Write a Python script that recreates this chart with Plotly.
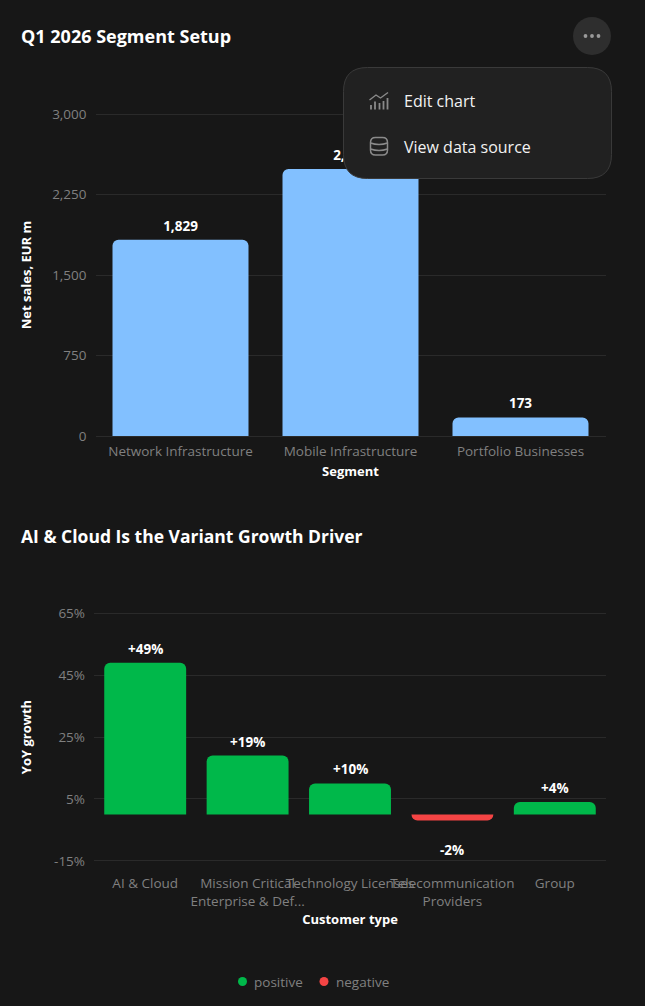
import plotly.graph_objects as go

W, H = 645, 1006
FONT = "Open Sans"
BG = "#171717"
GRID = "#2a2a2a"
TICK = "#808080"
WHITE = "#ffffff"

# Net sales by segment
segments = ["Network Infrastructure", "Mobile Infrastructure", "Portfolio Businesses"]
net_sales = [1829, 2487, 173]
sales_ticks = [0, 750, 1500, 2250, 3000]

# Growth by customer type
customers = ["AI & Cloud", "Mission Critical<br>Enterprise & Def...", "Technology Licenses",
             "Telecommunication<br>Providers", "Group"]
growth = [49, 19, 10, -2, 4]
growth_ticks = [-15, 5, 25, 45, 65]
growth_labels = ["-15%", "5%", "25%", "45%", "65%"]

POS, NEG = "#00b84a", "#f44444"


def px(x):
    return x / W


def py(y):
    return 1 - y / H


def pt(x, y):
    return f"{px(x):.5f},{py(y):.5f}"


def rounded(x0, y0, x1, y1, r):
    return (f"M{pt(x0 + r, y0)} L{pt(x1 - r, y0)} Q{pt(x1, y0)} {pt(x1, y0 + r)} "
            f"L{pt(x1, y1 - r)} Q{pt(x1, y1)} {pt(x1 - r, y1)} "
            f"L{pt(x0 + r, y1)} Q{pt(x0, y1)} {pt(x0, y1 - r)} "
            f"L{pt(x0, y0 + r)} Q{pt(x0, y0)} {pt(x0 + r, y0)} Z")


def shape_path(d, fill="rgba(0,0,0,0)", line=None, width=1.5):
    return dict(type="path", xref="paper", yref="paper", path=d, fillcolor=fill, layer="above",
                line=dict(color=line or "rgba(0,0,0,0)", width=width if line else 0))


def dot(cx, cy, r, fill):
    return dict(type="circle", xref="paper", yref="paper", layer="above", fillcolor=fill,
                x0=px(cx - r), x1=px(cx + r), y0=py(cy + r), y1=py(cy - r), line=dict(width=0))


def text(x, y, s, size, color=WHITE, bold=False, anchor="left"):
    return dict(xref="paper", yref="paper", x=px(x), y=py(y), text=f"<b>{s}</b>" if bold else s,
                showarrow=False, xanchor=anchor, yanchor="middle",
                font=dict(family=FONT, size=size, color=color))


fig = go.Figure()

fig.add_bar(x=segments, y=net_sales, xaxis="x", yaxis="y", width=0.8, marker_color="#82c0ff",
            marker_line_width=0, showlegend=False, hoverinfo="skip")

# Value labels sit in the trace layer so the popup menu covers them
fig.add_scatter(x=segments, y=net_sales, xaxis="x", yaxis="y", mode="markers+text",
                marker=dict(size=7.5, opacity=0), text=[f"{v:,}" for v in net_sales],
                textposition="top center", cliponaxis=False,
                textfont=dict(family=FONT, size=13.5, color=WHITE, weight=700),
                showlegend=False, hoverinfo="skip")

fig.add_bar(x=customers, y=growth, xaxis="x2", yaxis="y2", width=0.8,
            marker_color=[POS if v >= 0 else NEG for v in growth],
            marker_line_width=0, showlegend=False, hoverinfo="skip")

axis_common = dict(showline=False, zeroline=False, ticks="", automargin=False,
                   tickfont=dict(family=FONT, size=13.5, color=TICK))
title_font = dict(family=FONT, size=13, color=WHITE, weight=700)

annotations = [
    text(19, 36.5, "Q1 2026 Segment Setup", 18, bold=True),
    text(19, 535.5, "AI &amp; Cloud Is the Variant Growth Driver", 17.5, bold=True),
    text(402, 101, "Edit chart", 16, "#f2f2f2"),
    text(402, 147, "View data source", 16, "#f2f2f2"),
    text(252, 981.5, "positive", 13.5, TICK),
    text(334, 981.5, "negative", 13.5, TICK),
]

# Value labels of the growth chart, placed from each bar's own value
for name, v in zip(customers, growth):
    annotations.append(dict(xref="x2", yref="y2", x=name, y=v, text=f"<b>{v:+d}%</b>",
                            showarrow=False, xanchor="center", yanchor="middle",
                            yshift=14 if v >= 0 else -29.5,
                            font=dict(family=FONT, size=13.5, color=WHITE)))

shapes = [
    # round "more" button
    dot(592, 36, 19, "#2e2e2e"),
    dot(585.5, 36, 1.9, "#9a9a9a"), dot(592, 36, 1.9, "#9a9a9a"), dot(598.5, 36, 1.9, "#9a9a9a"),
    # popup menu
    shape_path(rounded(343.5, 67.5, 611.5, 178.5, 24), "#212121", "#3a3a3a", 1),
    # chart icon
    shape_path(f"M{pt(369.5, 100)} L{pt(376, 95)} L{pt(380.5, 98)} L{pt(388, 92.5)}", line="#8a8a8a", width=1.4),
    shape_path(f"M{pt(371, 109.5)} L{pt(371, 105)}", line="#8a8a8a", width=1.8),
    shape_path(f"M{pt(375, 109.5)} L{pt(375, 101.5)}", line="#8a8a8a", width=1.8),
    shape_path(f"M{pt(379.5, 109.5)} L{pt(379.5, 103)}", line="#8a8a8a", width=1.8),
    shape_path(f"M{pt(383.5, 109.5)} L{pt(383.5, 101)}", line="#8a8a8a", width=1.8),
    shape_path(f"M{pt(387.5, 109.5)} L{pt(387.5, 98)}", line="#8a8a8a", width=1.8),
    # database icon
    shape_path(rounded(370.5, 137.5, 387.5, 155, 5), line="#8a8a8a", width=1.5),
    shape_path(f"M{pt(370.5, 143)} Q{pt(379, 146)} {pt(387.5, 143)}", line="#8a8a8a", width=1.5),
    shape_path(f"M{pt(370.5, 149)} Q{pt(379, 152)} {pt(387.5, 149)}", line="#8a8a8a", width=1.5),
    # legend markers
    dot(242.5, 981.5, 4.5, POS),
    dot(324, 981.5, 4.5, NEG),
]

# Both value axes run slightly past their outer ticks so the end gridlines stay drawn
SALES_PAD = 2 * 3000 / 322
GROWTH_PAD = 2 * 80 / 247.5

fig.update_layout(
    width=W, height=H, autosize=False, margin=dict(l=0, r=0, t=0, b=0),
    paper_bgcolor=BG, plot_bgcolor=BG, barcornerradius=6, showlegend=False,
    font=dict(family=FONT),
    xaxis=dict(domain=[px(95.5), px(605.5)], anchor="y", tickangle=0, showgrid=False, ticklabelstandoff=3,
               title=dict(text="Segment", font=title_font, standoff=8), **axis_common),
    yaxis=dict(domain=[py(438), py(112)], anchor="x", range=[-SALES_PAD, 3000 + SALES_PAD],
               tickvals=sales_ticks, tickformat=",", gridcolor=GRID, gridwidth=1, ticklabelstandoff=8,
               title=dict(text="Net sales, EUR m", font=title_font, standoff=17), **axis_common),
    xaxis2=dict(domain=[px(94), px(606)], anchor="y2", tickangle=0, showgrid=False, ticklabelstandoff=11,
                title=dict(text="Customer type", font=title_font, standoff=4), **axis_common),
    yaxis2=dict(domain=[py(862.8), py(611.3)], anchor="x2", range=[-15 - GROWTH_PAD, 65 + GROWTH_PAD],
                tickvals=growth_ticks, ticktext=growth_labels, gridcolor=GRID, gridwidth=1, ticklabelstandoff=8,
                title=dict(text="YoY growth", font=title_font, standoff=19), **axis_common),
    annotations=annotations, shapes=shapes,
)

fig.write_html("out.html", config=dict(displayModeBar=False))
